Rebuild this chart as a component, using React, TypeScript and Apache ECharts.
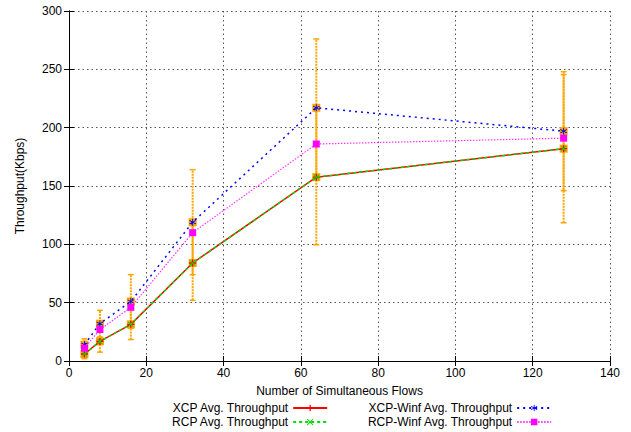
import React, { useEffect, useRef } from "react";
import * as echarts from "echarts";

const flows = [4, 8, 16, 32, 64, 128];
const xcpAvg = [6, 16.8, 31.4, 84, 157.6, 182];
const rcpAvg = [6, 16.8, 31.4, 84, 157.6, 182];
const xcpWinf = [14, 32, 51, 119, 217, 197];
const rcpWinf = [11, 27, 46, 110, 186, 191];
const xcpAvgErr = [4, 9.2, 13, 32, 58, 63.5];
const xcpWinfErr = [5, 11.4, 23, 45, 59, 51];

const xTicks = { min: 0, max: 140, interval: 20 };
const yTicks = { min: 0, max: 300, interval: 50 };

const FONT = "Liberation Sans, Arial, Helvetica, sans-serif";
const ORANGE = "#ffa500";

const PLUS = "path://M4,0H6V4H10V6H6V10H4V6H0V4H4Z";
const CROSS = "path://M1,0L5,4L9,0L10,1L6,5L10,9L9,10L5,6L1,10L0,9L4,5L0,1Z";
const STAR =
  "path://M4.4,0H5.6V3.9L9,2L9.6,3L6.2,5L9.6,7L9,8L5.6,6.1V10H4.4V6.1L1,8L0.4,7L3.8,5L0.4,3L1,2L4.4,3.9Z";

function errData(vals: number[], errs: number[]) {
  return flows.map((x, i) => [x, vals[i], vals[i] - errs[i], vals[i] + errs[i]]);
}

function renderErr(params: any, api: any) {
  const x = api.value(0);
  const p = api.coord([x, api.value(1)]);
  const pl = api.coord([x, api.value(2)]);
  const ph = api.coord([x, api.value(3)]);
  const cap = { stroke: ORANGE, lineWidth: 1.5 };
  return {
    type: "group",
    children: [
      {
        type: "line",
        shape: { x1: p[0], y1: pl[1], x2: p[0], y2: ph[1] },
        style: { stroke: ORANGE, lineWidth: 2, lineDash: [2, 1] },
      },
      { type: "line", shape: { x1: p[0] - 3, y1: pl[1], x2: p[0] + 3, y2: pl[1] }, style: cap },
      { type: "line", shape: { x1: p[0] - 3, y1: ph[1], x2: p[0] + 3, y2: ph[1] }, style: cap },
      {
        type: "rect",
        shape: { x: p[0] - 4, y: p[1] - 4, width: 8, height: 8 },
        style: { fill: ORANGE },
      },
    ],
  };
}

export default function App() {
  const ref = useRef<HTMLDivElement>(null);
  useEffect(() => {
    if (!ref.current) return;
    const chart = echarts.init(ref.current, null, { renderer: "svg" });
    const axisLine = { show: true, lineStyle: { color: "#000", width: 1 } };
    const tick = { show: true, inside: true, length: 5, lineStyle: { color: "#000" } };
    const split = { show: true, lineStyle: { color: "#555", type: [1.5, 3] as any, width: 1 } };
    const legendCommon = {
      type: "plain",
      orient: "vertical",
      align: "right",
      itemWidth: 34,
      itemHeight: 8,
      itemGap: 0,
      height: 60,
      padding: 0,
      textStyle: { fontFamily: FONT, fontSize: 12, color: "#000", lineHeight: 14 },
      selectedMode: false,
    };
    chart.setOption({
      animation: false,
      backgroundColor: "#fff",
      textStyle: { fontFamily: FONT },
      grid: { left: 69, right: 21, top: 11, bottom: 71 },
      legend: [
        { ...legendCommon, left: 171, top: 401, data: ["XCP Avg. Throughput", "RCP Avg. Throughput"] },
        {
          ...legendCommon,
          left: 367,
          top: 401,
          data: ["XCP-Winf Avg. Throughput", "RCP-Winf Avg. Throughput"],
        },
      ],
      xAxis: [
        {
          type: "value",
          ...xTicks,
          axisLine,
          axisTick: tick,
          splitLine: split,
          axisLabel: { color: "#000", fontSize: 12, fontFamily: FONT, margin: 6 },
          name: "Number of Simultaneous Flows",
          nameLocation: "middle",
          nameGap: 24,
          nameTextStyle: { color: "#000", fontSize: 12, fontFamily: FONT },
        },
        {
          type: "value",
          position: "top",
          ...xTicks,
          axisLine,
          axisTick: tick,
          splitLine: { show: false },
          axisLabel: { show: false },
        },
      ],
      yAxis: [
        {
          type: "value",
          ...yTicks,
          axisLine,
          axisTick: tick,
          splitLine: split,
          axisLabel: { color: "#000", fontSize: 12, fontFamily: FONT, margin: 7 },
          name: "Throughput(Kbps)",
          nameLocation: "middle",
          nameGap: 43,
          nameTextStyle: { color: "#000", fontSize: 12, fontFamily: FONT },
        },
        {
          type: "value",
          position: "right",
          ...yTicks,
          axisLine,
          axisTick: tick,
          splitLine: { show: false },
          axisLabel: { show: false },
        },
      ],
      series: [
        {
          type: "custom",
          name: "xcpAvgErr",
          z: 1,
          renderItem: renderErr,
          encode: { x: 0, y: [1, 2, 3] },
          data: errData(xcpAvg, xcpAvgErr),
        },
        {
          type: "custom",
          name: "xcpWinfErr",
          z: 1,
          renderItem: renderErr,
          encode: { x: 0, y: [1, 2, 3] },
          data: errData(xcpWinf, xcpWinfErr),
        },
        {
          type: "line",
          name: "XCP Avg. Throughput",
          z: 3,
          data: flows.map((x, i) => [x, xcpAvg[i]]),
          symbol: PLUS,
          symbolSize: 7,
          showAllSymbol: true,
          itemStyle: { color: "#ff0000" },
          lineStyle: { color: "#ff0000", width: 1.5, type: "solid" },
        },
        {
          type: "line",
          name: "RCP Avg. Throughput",
          z: 4,
          data: flows.map((x, i) => [x, rcpAvg[i]]),
          symbol: CROSS,
          symbolSize: 6,
          itemStyle: { color: "#00dd00" },
          lineStyle: { color: "#00dd00", width: 1.5, type: [3, 3] },
        },
        {
          type: "line",
          name: "XCP-Winf Avg. Throughput",
          z: 5,
          data: flows.map((x, i) => [x, xcpWinf[i]]),
          symbol: STAR,
          symbolSize: 7,
          itemStyle: { color: "#0000ff" },
          lineStyle: { color: "#0000ff", width: 1.5, type: [2, 4] },
        },
        {
          type: "line",
          name: "RCP-Winf Avg. Throughput",
          z: 6,
          data: flows.map((x, i) => [x, rcpWinf[i]]),
          symbol: "rect",
          symbolSize: 7,
          itemStyle: { color: "#ff00ff" },
          lineStyle: { color: "#ff33ff", width: 1.2, type: [1.5, 1.5] },
        },
      ],
    });
    return () => chart.dispose();
  }, []);
  return <div ref={ref} style={{ width: 631, height: 432, position: "absolute", left: 0, top: 0 }} />;
}
